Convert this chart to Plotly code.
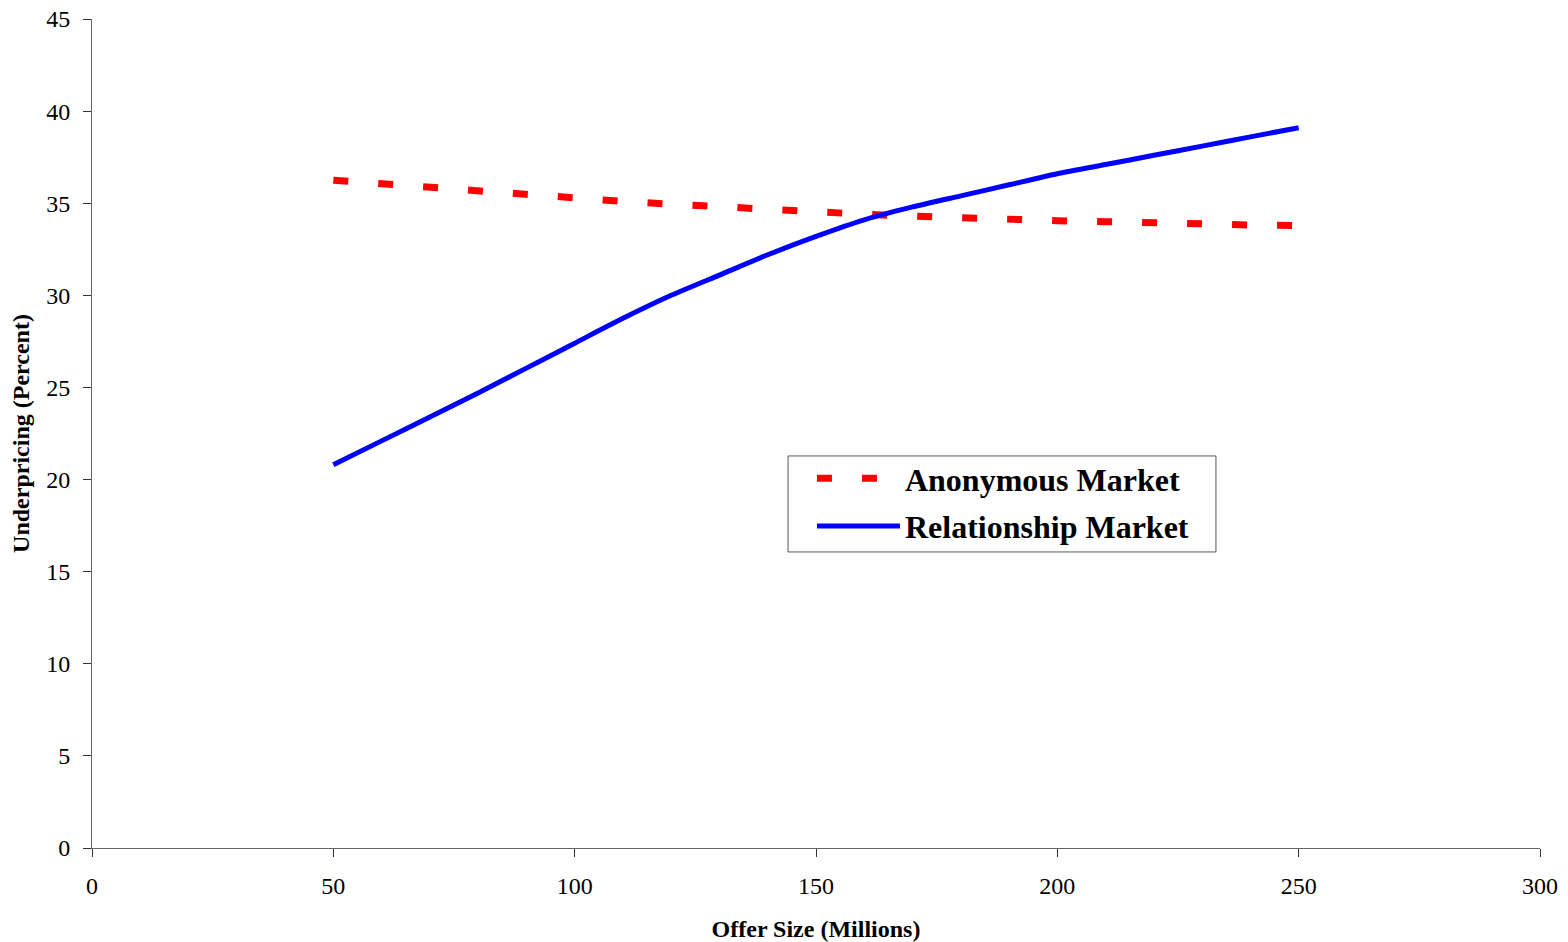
import plotly.graph_objects as go

offer_size = [50, 60, 70, 80, 90, 100, 110, 120, 130, 140, 150, 160, 170, 180, 190, 200, 210, 220, 230, 240, 250]
anonymous = [36.25, 36.05, 35.85, 35.65, 35.45, 35.28, 35.1, 34.95, 34.8, 34.65, 34.5, 34.4, 34.3, 34.2, 34.12, 34.05, 34.0, 33.92, 33.87, 33.82, 33.78]
relationship = [20.8, 22.1, 23.4, 24.7, 26.05, 27.4, 28.75, 30.0, 31.1, 32.2, 33.2, 34.1, 34.8, 35.4, 36.0, 36.6, 37.1, 37.6, 38.1, 38.6, 39.1]

x_ticks = [0, 50, 100, 150, 200, 250, 300]
y_ticks = [0, 5, 10, 15, 20, 25, 30, 35, 40, 45]

font_family = "Liberation Serif, Times New Roman, serif"

fig = go.Figure()
fig.add_trace(go.Scatter(
    x=offer_size, y=anonymous, mode="lines", name="Anonymous Market",
    legendgroup="a",
    line=dict(color="#ff0000", width=7, dash="15px,30px"),
))
fig.add_trace(go.Scatter(
    x=offer_size, y=relationship, mode="lines", name="Relationship Market",
    legendgroup="b",
    line=dict(color="#0000ff", width=5, shape="spline", smoothing=0.6),
))

# legend frame
fig.add_shape(
    type="rect", xref="paper", yref="paper",
    x0=0.4807, x1=0.7762, y0=0.3571, y1=0.4729,
    line=dict(color="#555555", width=1), fillcolor="white", layer="below",
)

fig.update_layout(
    width=1568, height=942, autosize=False,
    margin=dict(l=84, r=36, t=11, b=102),
    paper_bgcolor="white", plot_bgcolor="white",
    font=dict(family=font_family, color="black", size=24),
    showlegend=True,
    legend=dict(
        x=0.4972, y=0.4789, xanchor="left", yanchor="top",
        bgcolor="rgba(0,0,0,0)", borderwidth=0,
        font=dict(family=font_family, size=32, color="black", weight="bold"),
        itemwidth=83, tracegroupgap=3,
    ),
    xaxis=dict(
        range=[0, 300], tickvals=x_ticks, ticktext=[str(v) for v in x_ticks],
        showgrid=False, zeroline=False, showline=True, linecolor="#666666", linewidth=1,
        ticks="outside", ticklen=8, tickcolor="#333333", tickwidth=1,
        tickfont=dict(size=24, family=font_family, color="black"),
        ticklabelstandoff=8, automargin=False, ticklabeloverflow="allow",
        title=dict(text="<b>Offer Size (Millions)</b>", font=dict(size=24, family=font_family), standoff=22),
    ),
    yaxis=dict(
        range=[0, 45], tickvals=y_ticks, ticktext=[str(v) for v in y_ticks],
        showgrid=False, zeroline=False, showline=True, linecolor="#666666", linewidth=1,
        ticks="outside", ticklen=8, tickcolor="#333333", tickwidth=1,
        tickfont=dict(size=24, family=font_family, color="black"),
        ticklabelstandoff=8, automargin=False, ticklabeloverflow="allow",
        title=dict(text="<b>Underpricing (Percent)</b>", font=dict(size=24, family=font_family), standoff=9),
    ),
)

fig.write_html("out.html")
